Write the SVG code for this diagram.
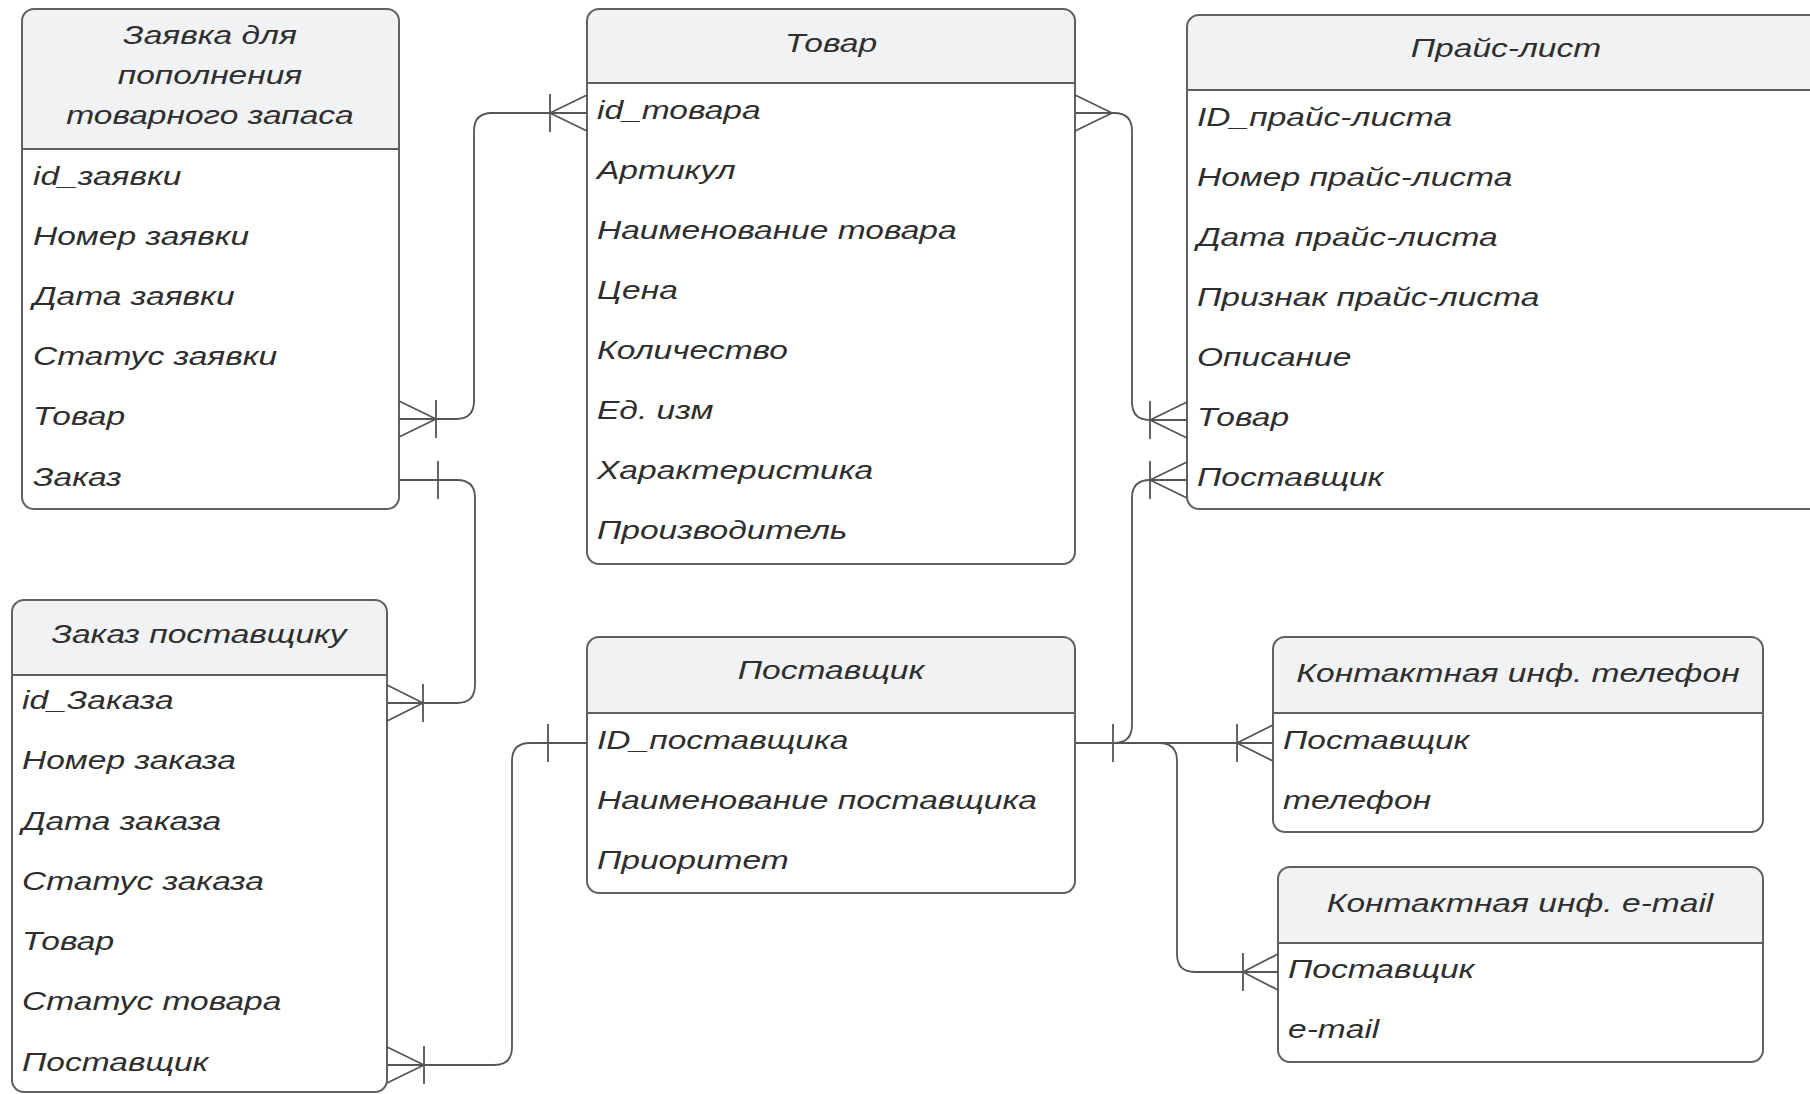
<svg xmlns="http://www.w3.org/2000/svg" width="1810" height="1094" viewBox="0 0 1810 1094">
<style>
.box{fill:#ffffff;stroke:none}
.hdr{fill:#f1f2f4;stroke:none}
.out{fill:none;stroke:#606060;stroke-width:2}
.div{stroke:#606060;stroke-width:2}
.t{font-family:"Liberation Sans",Arial,sans-serif;font-style:italic;font-size:26px;fill:#2e2e2e}
.h{font-family:"Liberation Sans",Arial,sans-serif;font-style:italic;font-size:26px;fill:#2e2e2e;text-anchor:middle}
.c{fill:none;stroke:#555555;stroke-width:1.8;stroke-linejoin:round}
</style>
<rect x="0" y="0" width="1810" height="1094" fill="#ffffff"/>

<g id="zayavka">
<rect class="box" x="22" y="9" width="377" height="500" rx="12"/>
<path class="hdr" d="M22,149 V21 A12,12 0 0 1 34,9 H387 A12,12 0 0 1 399,21 V149 Z"/>
<line class="div" x1="22" y1="149" x2="399" y2="149"/>
<rect class="out" x="22" y="9" width="377" height="500" rx="12"/>
<text class="h" transform="translate(210,44) scale(1.29,1)">Заявка для</text>
<text class="h" transform="translate(210,84) scale(1.29,1)">пополнения</text>
<text class="h" transform="translate(210,124) scale(1.29,1)">товарного запаса</text>
<text class="t" transform="translate(33,185) scale(1.29,1)">id_заявки</text>
<text class="t" transform="translate(33,245) scale(1.29,1)">Номер заявки</text>
<text class="t" transform="translate(33,305) scale(1.29,1)">Дата заявки</text>
<text class="t" transform="translate(33,365) scale(1.29,1)">Статус заявки</text>
<text class="t" transform="translate(33,425) scale(1.29,1)">Товар</text>
<text class="t" transform="translate(33,486) scale(1.29,1)">Заказ</text>
</g>

<g id="tovar">
<rect class="box" x="587" y="9" width="488" height="555" rx="12"/>
<path class="hdr" d="M587,83 V21 A12,12 0 0 1 599,9 H1063 A12,12 0 0 1 1075,21 V83 Z"/>
<line class="div" x1="587" y1="83" x2="1075" y2="83"/>
<rect class="out" x="587" y="9" width="488" height="555" rx="12"/>
<text class="h" transform="translate(831,52) scale(1.29,1)">Товар</text>
<text class="t" transform="translate(597,119) scale(1.29,1)">id_товара</text>
<text class="t" transform="translate(597,179) scale(1.29,1)">Артикул</text>
<text class="t" transform="translate(597,239) scale(1.29,1)">Наименование товара</text>
<text class="t" transform="translate(597,299) scale(1.29,1)">Цена</text>
<text class="t" transform="translate(597,359) scale(1.29,1)">Количество</text>
<text class="t" transform="translate(597,419) scale(1.29,1)">Ед. изм</text>
<text class="t" transform="translate(597,479) scale(1.29,1)">Характеристика</text>
<text class="t" transform="translate(597,539) scale(1.29,1)">Производитель</text>
</g>

<g id="prajs">
<rect class="box" x="1187" y="15" width="660" height="494" rx="12"/>
<path class="hdr" d="M1187,90 V27 A12,12 0 0 1 1199,15 H1835 A12,12 0 0 1 1847,27 V90 Z"/>
<line class="div" x1="1187" y1="90" x2="1847" y2="90"/>
<rect class="out" x="1187" y="15" width="660" height="494" rx="12"/>
<text class="h" transform="translate(1506,57) scale(1.29,1)">Прайс-лист</text>
<text class="t" transform="translate(1197,126) scale(1.29,1)">ID_прайс-листа</text>
<text class="t" transform="translate(1197,186) scale(1.29,1)">Номер прайс-листа</text>
<text class="t" transform="translate(1197,246) scale(1.29,1)">Дата прайс-листа</text>
<text class="t" transform="translate(1197,306) scale(1.29,1)">Признак прайс-листа</text>
<text class="t" transform="translate(1197,366) scale(1.29,1)">Описание</text>
<text class="t" transform="translate(1197,426) scale(1.29,1)">Товар</text>
<text class="t" transform="translate(1197,486) scale(1.29,1)">Поставщик</text>
</g>

<g id="zakaz">
<rect class="box" x="12" y="600" width="375" height="492" rx="12"/>
<path class="hdr" d="M12,675 V612 A12,12 0 0 1 24,600 H375 A12,12 0 0 1 387,612 V675 Z"/>
<line class="div" x1="12" y1="675" x2="387" y2="675"/>
<rect class="out" x="12" y="600" width="375" height="492" rx="12"/>
<text class="h" transform="translate(199,643) scale(1.29,1)">Заказ поставщику</text>
<text class="t" transform="translate(22,709) scale(1.29,1)">id_Заказа</text>
<text class="t" transform="translate(22,769) scale(1.29,1)">Номер заказа</text>
<text class="t" transform="translate(22,830) scale(1.29,1)">Дата заказа</text>
<text class="t" transform="translate(22,890) scale(1.29,1)">Статус заказа</text>
<text class="t" transform="translate(22,950) scale(1.29,1)">Товар</text>
<text class="t" transform="translate(22,1010) scale(1.29,1)">Статус товара</text>
<text class="t" transform="translate(22,1071) scale(1.29,1)">Поставщик</text>
</g>

<g id="postavshchik">
<rect class="box" x="587" y="637" width="488" height="256" rx="12"/>
<path class="hdr" d="M587,713 V649 A12,12 0 0 1 599,637 H1063 A12,12 0 0 1 1075,649 V713 Z"/>
<line class="div" x1="587" y1="713" x2="1075" y2="713"/>
<rect class="out" x="587" y="637" width="488" height="256" rx="12"/>
<text class="h" transform="translate(831,679) scale(1.29,1)">Поставщик</text>
<text class="t" transform="translate(597,749) scale(1.29,1)">ID_поставщика</text>
<text class="t" transform="translate(597,809) scale(1.29,1)">Наименование поставщика</text>
<text class="t" transform="translate(597,869) scale(1.29,1)">Приоритет</text>
</g>

<g id="telefon">
<rect class="box" x="1273" y="637" width="490" height="195" rx="12"/>
<path class="hdr" d="M1273,713 V649 A12,12 0 0 1 1285,637 H1751 A12,12 0 0 1 1763,649 V713 Z"/>
<line class="div" x1="1273" y1="713" x2="1763" y2="713"/>
<rect class="out" x="1273" y="637" width="490" height="195" rx="12"/>
<text class="h" transform="translate(1518,682) scale(1.29,1)">Контактная инф. телефон</text>
<text class="t" transform="translate(1283,749) scale(1.29,1)">Поставщик</text>
<text class="t" transform="translate(1283,809) scale(1.29,1)">телефон</text>
</g>

<g id="email">
<rect class="box" x="1278" y="867" width="485" height="195" rx="12"/>
<path class="hdr" d="M1278,943 V879 A12,12 0 0 1 1290,867 H1751 A12,12 0 0 1 1763,879 V943 Z"/>
<line class="div" x1="1278" y1="943" x2="1763" y2="943"/>
<rect class="out" x="1278" y="867" width="485" height="195" rx="12"/>
<text class="h" transform="translate(1520,912) scale(1.29,1)">Контактная инф. e-mail</text>
<text class="t" transform="translate(1288,978) scale(1.29,1)">Поставщик</text>
<text class="t" transform="translate(1288,1038) scale(1.29,1)">e-mail</text>
</g>

<g id="connectors">
<path class="c" d="M399,419 H456 Q474,419 474,401 V131 Q474,113 492,113 H587"/>
<path class="c" d="M399,401 L436,419 L399,437 M436,400 V438"/>
<path class="c" d="M587,95 L550,113 L587,131 M550,94 V132"/>

<path class="c" d="M399,480 H457 Q475,480 475,498 V685 Q475,703 457,703 H387"/>
<path class="c" d="M438,461 V499"/>
<path class="c" d="M387,685 L423,703 L387,721 M423,684 V722"/>

<path class="c" d="M1075,113 H1114 Q1132,113 1132,131 V402 Q1132,420 1150,420 H1187"/>
<path class="c" d="M1075,95 L1112,113 L1075,131"/>
<path class="c" d="M1187,402 L1150,420 L1187,438 M1150,401 V439"/>

<path class="c" d="M1075,743 H1273"/>
<path class="c" d="M1114,743 Q1132,743 1132,725 V498 Q1132,480 1150,480 H1187"/>
<path class="c" d="M1159,743 Q1177,743 1177,761 V954 Q1177,972 1195,972 H1278"/>
<path class="c" d="M1113,724 V762"/>
<path class="c" d="M1187,462 L1150,480 L1187,498 M1150,461 V499"/>
<path class="c" d="M1273,725 L1237,743 L1273,761 M1237,724 V762"/>
<path class="c" d="M1278,954 L1243,972 L1278,990 M1243,953 V991"/>

<path class="c" d="M387,1065 H494 Q512,1065 512,1047 V761 Q512,743 530,743 H587"/>
<path class="c" d="M387,1047 L424,1065 L387,1083 M424,1046 V1084"/>
<path class="c" d="M548,724 V762"/>
</g>
</svg>
